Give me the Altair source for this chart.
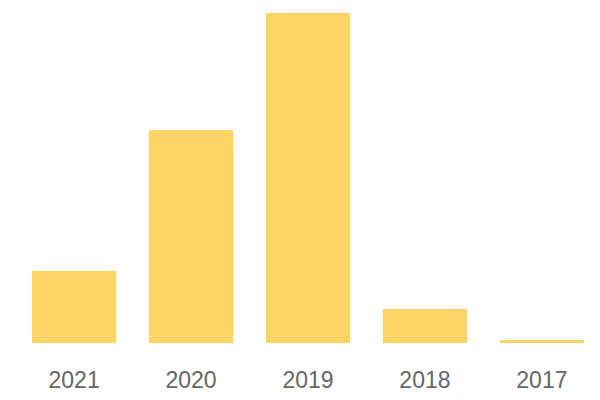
import altair as alt
import pandas as pd

years = ["2021", "2020", "2019", "2018", "2017"]
values = [72, 213, 330, 34, 3]

df = pd.DataFrame({"year": years, "value": values})

chart = alt.Chart(df).mark_bar(color="#FED466").encode(
    x=alt.X("year:N", sort=years,
            scale=alt.Scale(paddingInner=0.28, paddingOuter=0),
            axis=alt.Axis(title=None, labelAngle=0, ticks=False, domain=False,
                          labelFontSize=23, labelColor="#666666",
                          labelFont="Liberation Sans",
                          labelBaseline="alphabetic", labelPadding=44)),
    y=alt.Y("value:Q", scale=alt.Scale(domain=[0, 330], nice=False), axis=None),
).properties(
    width=552, height=330,
    autosize=alt.AutoSizeParams(type="none"),
    padding={"left": 24, "top": 5, "right": 8, "bottom": 50},
).configure_view(stroke=None)

chart.save("out.html", embed_options={"renderer": "svg", "actions": False})
